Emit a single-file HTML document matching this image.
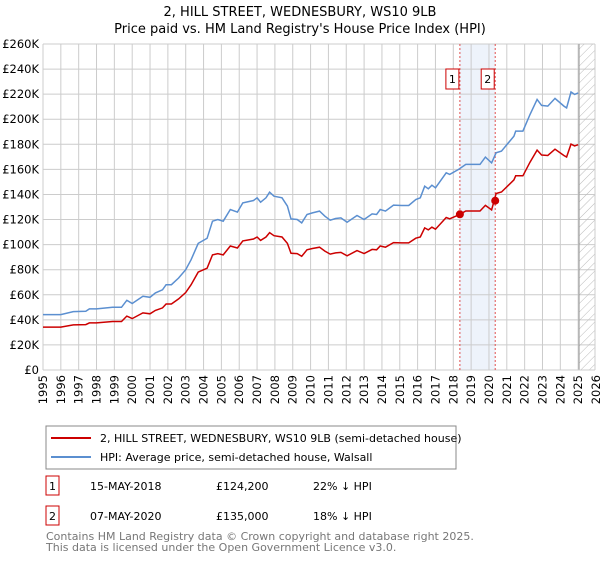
<!DOCTYPE html>
<html><head><meta charset="utf-8"><style>
body{margin:0;background:#fff;font-family:"Liberation Sans","DejaVu Sans",sans-serif;}
svg text{font-family:"DejaVu Sans","Liberation Sans",sans-serif;}
</style></head><body>
<svg id="c" width="600" height="560" xmlns="http://www.w3.org/2000/svg">
<defs><pattern id="hatch" width="6" height="6" patternUnits="userSpaceOnUse" patternTransform="rotate(45)"><line x1="0" y1="0" x2="0" y2="6" stroke="#bbb" stroke-width="1"/></pattern></defs>
<text x="300" y="16" text-anchor="middle" font-size="13">2, HILL STREET, WEDNESBURY, WS10 9LB</text>
<text x="300" y="33" text-anchor="middle" font-size="13">Price paid vs. HM Land Registry's House Price Index (HPI)</text>
<g id="grid"></g><g id="marks"></g>
<g>
<rect x="46" y="426" width="410" height="43" fill="#fff" stroke="#888"/>
<line x1="51" y1="438" x2="91" y2="438" stroke="#cc0000" stroke-width="2"/>
<text x="100" y="442" font-size="11">2, HILL STREET, WEDNESBURY, WS10 9LB (semi-detached house)</text>
<line x1="51" y1="457" x2="91" y2="457" stroke="#5b8fd0" stroke-width="2"/>
<text x="100" y="461" font-size="11">HPI: Average price, semi-detached house, Walsall</text>
</g>
<g font-size="11">
<rect x="46" y="476" width="13" height="19" fill="none" stroke="#cc0000"/><text x="52.5" y="490" text-anchor="middle">1</text>
<text x="90" y="490">15-MAY-2018</text><text x="216" y="490">£124,200</text><text x="313" y="490">22% ↓ HPI</text>
<rect x="46" y="506" width="13" height="19" fill="none" stroke="#cc0000"/><text x="52.5" y="520" text-anchor="middle">2</text>
<text x="90" y="520">07-MAY-2020</text><text x="216" y="520">£135,000</text><text x="313" y="520">18% ↓ HPI</text>
</g>
<text x="46" y="540" font-size="11" fill="#777">Contains HM Land Registry data © Crown copyright and database right 2025.</text>
<text x="46" y="551" font-size="11" fill="#777">This data is licensed under the Open Government Licence v3.0.</text>
</svg>
<script>
const years=[1995.0,1996.0,1996.7,1997.4,1997.6,1998.0,1998.9,1999.4,1999.7,2000.0,2000.6,2001.0,2001.3,2001.7,2001.9,2002.2,2002.6,2003.0,2003.3,2003.7,2004.2,2004.5,2004.8,2005.1,2005.5,2005.9,2006.2,2006.8,2007.0,2007.2,2007.5,2007.7,2007.95,2008.4,2008.7,2008.9,2009.25,2009.5,2009.8,2010.1,2010.5,2010.8,2011.1,2011.4,2011.7,2012.05,2012.6,2013.0,2013.45,2013.7,2013.9,2014.2,2014.65,2015.1,2015.5,2015.9,2016.15,2016.4,2016.6,2016.8,2017.0,2017.6,2017.8,2018.3,2018.7,2019.1,2019.5,2019.8,2020.15,2020.4,2020.7,2021.4,2021.5,2021.9,2022.3,2022.7,2022.95,2023.3,2023.7,2024.2,2024.35,2024.6,2024.8,2025.0];
const hpi=[44.2,44.2,46.6,46.8,48.7,48.7,50,50,55.6,53,58.8,58,61.5,64,68,68,73.4,80,88,101,105,118.7,120,118.7,128,125.9,133.3,135.2,137.3,133.8,137.3,141.8,138.6,137.3,130.7,120.5,120,117.3,124,125.3,126.7,122.7,119.5,120.8,121.3,117.9,123.2,120,124.5,124,128,126.7,131.5,131.2,131.2,136,137.3,146.6,144.5,147.4,145.3,157.3,156,160,164,164,164,169.8,165.2,173.2,174.6,186.5,190.5,190.5,203.8,215.8,211,210.5,216.6,210.5,209,221.7,219.8,221];
const price=[34.2,34.2,36.0,36.2,37.6,37.6,38.7,38.7,43.0,41.0,45.5,44.8,47.5,49.5,52.6,52.6,56.7,61.8,68.0,78.1,81.2,91.8,92.8,91.8,98.9,97.3,103.0,104.5,106.1,103.4,106.1,109.6,107.1,106.1,101.0,93.1,92.8,90.7,95.9,96.9,97.9,94.8,92.4,93.4,93.8,91.1,95.2,92.8,96.2,95.9,98.9,97.9,101.6,101.4,101.4,105.1,106.1,113.3,111.7,113.9,112.3,121.6,120.6,123.7,126.8,126.8,126.8,131.3,127.7,140.8,142,151.6,154.9,154.9,165.7,175.4,171.5,171.1,176.1,171.1,169.9,180.2,178.7,179.7];
const saleYears=[2018.37,2020.35];
const salePrices=[124.2,135.0];
const saleLabels=["1","2"];
const yTicks=[0,20,40,60,80,100,120,140,160,180,200,220,240,260];
const xTicks=[1995,1996,1997,1998,1999,2000,2001,2002,2003,2004,2005,2006,2007,2008,2009,2010,2011,2012,2013,2014,2015,2016,2017,2018,2019,2020,2021,2022,2023,2024,2025,2026];
const L=43,R=596,PR=595,T=44,B=370,x0=1995,x1=2026,ymax=260;
const X=v=>L+(v-x0)/(x1-x0)*(R-L);
const Y=v=>B-v/ymax*(B-T);
const NS="http://www.w3.org/2000/svg";
function mk(p,t,a){const e=document.createElementNS(NS,t);for(const k in a)e.setAttribute(k,a[k]);p.appendChild(e);return e;}
const g=document.getElementById('grid'),m=document.getElementById('marks');
let sh=mk(g,'rect',{x:X(saleYears[0]),y:T,width:X(saleYears[1])-X(saleYears[0]),height:B-T,fill:'#eef3fb'});


yTicks.forEach(v=>{
 mk(g,'line',{x1:L,x2:PR,y1:Y(v),y2:Y(v),stroke:'#ccc'});
 const t=mk(g,'text',{x:L-4,y:Y(v)+4,'text-anchor':'end','font-size':'11.5'});t.textContent=v===0?'£0':'£'+v+'K';
 
 
});
xTicks.forEach(v=>{
 if(X(v)<=PR) mk(g,'line',{x1:X(v),x2:X(v),y1:T,y2:B,stroke:'#ccc'});
 const t=mk(g,'text',{x:0,y:0,'text-anchor':'end','font-size':'11.5',transform:`translate(${X(v)+4},${B+5}) rotate(-90)`});t.textContent=v;
 
 
});
let ht=mk(g,'rect',{x:X(2025.05),y:T,width:PR-X(2025.05),height:B-T,fill:'url(#hatch)'});


mk(g,'line',{x1:X(2025.05),x2:X(2025.05),y1:T,y2:B,stroke:'#999'});
mk(g,'line',{x1:PR,x2:PR,y1:T,y2:B,stroke:'#ccc'});
mk(g,'line',{x1:L,x2:PR,y1:B,y2:B,stroke:'#ccc'});
saleYears.forEach((s,i)=>{
 mk(m,'line',{x1:X(s),x2:X(s),y1:T,y2:B,stroke:'#e05050','stroke-dasharray':'2,2'});
 const r=mk(m,'rect',{x:X(s)-14,y:69,width:13,height:20,fill:'#fff',stroke:'#cc0000'});
 
 
 const t=mk(m,'text',{x:X(s)-7.5,y:83,'text-anchor':'middle','font-size':'11'});t.textContent=saleLabels[i];
});
const pth=(arr)=>arr.map((v,i)=>(i?'L':'M')+X(years[i]).toFixed(1)+','+Y(v).toFixed(1)).join('');
const hl=mk(m,'path',{d:pth(hpi),fill:'none',stroke:'#5b8fd0','stroke-width':1.5});


const pl=mk(m,'path',{d:pth(price),fill:'none',stroke:'#cc0000','stroke-width':1.5});


saleYears.forEach((s,i)=>{
 const c=mk(m,'circle',{cx:X(s),cy:Y(salePrices[i]),r:4,fill:'#cc0000'});
 
 
});
</script>
</body></html>
